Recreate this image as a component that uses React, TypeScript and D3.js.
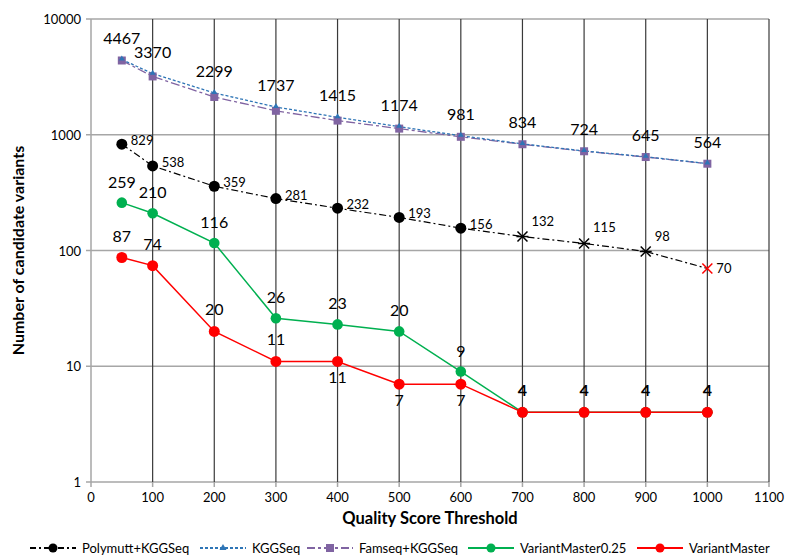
import * as d3 from "d3";

const thresholds = [50, 100, 200, 300, 400, 500, 600, 700, 800, 900, 1000];
const polymutt = [829, 538, 359, 281, 232, 193, 156, 132, 115, 98, 70];
const kggseq = [4467, 3370, 2299, 1737, 1415, 1174, 981, 834, 724, 645, 564];
const famseq = [4380, 3190, 2120, 1610, 1325, 1130, 960, 828, 720, 642, 562];
const vm025 = [259, 210, 116, 26, 23, 20, 9, 4, 4, 4, 4];
const vm = [87, 74, 20, 11, 11, 7, 7, 4, 4, 4, 4];
const xTicks = [0, 100, 200, 300, 400, 500, 600, 700, 800, 900, 1000, 1100];
const yTicks = [1, 10, 100, 1000, 10000];

const FONT = "Lato, 'Open Sans', sans-serif";
const W = 786;
const H = 556;
const M = { left: 91, right: 16, top: 19, bottom: 74 };

const BLUE = "#2e75b6";
const PURPLE = "#8064a2";
const GREEN = "#00b050";
const RED = "#ff0000";

const App = () => {
  const x = d3.scaleLinear().domain([0, 1100]).range([M.left, W - M.right - 1]);
  const y = d3.scaleLog().domain([1, 10000]).range([H - M.bottom, M.top]);
  const line = (vals: number[]) =>
    d3
      .line<number>()
      .x((_, i) => x(thresholds[i]))
      .y((d) => y(d))(vals) || "";

  const y0 = y(1);
  const yTop = y(10000);

  // red labels below the point for these indices
  const vmBelow = [4, 5, 6];

  const star = (cx: number, cy: number, c: string, vert: boolean, k: number) => (
    <g key={k} stroke={c} strokeWidth={1.5}>
      <line x1={cx - 5} y1={cy - 5} x2={cx + 5} y2={cy + 5} />
      <line x1={cx - 5} y1={cy + 5} x2={cx + 5} y2={cy - 5} />
      {vert && <line x1={cx - 6} y1={cy} x2={cx + 6} y2={cy} />}
    </g>
  );

  const legendItems = [
    { x: 30, label: "Polymutt+KGGSeq", color: "#000", dash: "6,3,2,3", marker: "circle" },
    { x: 200, label: "KGGSeq", color: BLUE, dash: "3,2", marker: "tri" },
    { x: 307, label: "Famseq+KGGSeq", color: PURPLE, dash: "8,3,3,3", marker: "square" },
    { x: 468, label: "VariantMaster0.25", color: GREEN, dash: "", marker: "circleG" },
    { x: 637, label: "VariantMaster", color: RED, dash: "", marker: "circleR" },
  ];

  return (
    <svg width={W} height={H} style={{ position: "absolute", left: 0, top: 0, fontFamily: FONT }}>
      <rect width={W} height={H} fill="#fff" />
      {/* horizontal grid */}
      {yTicks.map((t) => (
        <line key={t} x1={M.left} x2={x(1100)} y1={y(t)} y2={y(t)} stroke="#a6a6a6" strokeWidth={1.5} />
      ))}
      {/* vertical grid */}
      {xTicks.slice(1).map((t) => (
        <line key={t} x1={x(t)} x2={x(t)} y1={yTop} y2={y0} stroke="#3a3a3a" strokeWidth={1.2} />
      ))}
      <line x1={M.left} x2={M.left} y1={yTop} y2={y0} stroke="#a6a6a6" strokeWidth={1.5} />
      {/* x ticks */}
      {xTicks.map((t) => (
        <g key={t}>
          <line x1={x(t)} x2={x(t)} y1={y0} y2={y0 + 5} stroke="#a6a6a6" strokeWidth={1.5} />
          <text x={x(t)} y={y0 + 20} textAnchor="middle" fontSize={13} fill="#000">
            {t}
          </text>
        </g>
      ))}
      {yTicks.map((t) => (
        <g key={t}>
          <line x1={M.left - 5} x2={M.left} y1={y(t)} y2={y(t)} stroke="#a6a6a6" strokeWidth={1.5} />
          <text x={M.left - 10} y={y(t) + 5} textAnchor="end" fontSize={13} fill="#000">
            {t}
          </text>
        </g>
      ))}

      {/* series lines */}
      <path d={line(famseq)} fill="none" stroke={PURPLE} strokeWidth={1.3} strokeDasharray="9,3,3,3" />
      <path d={line(kggseq)} fill="none" stroke={BLUE} strokeWidth={1.3} strokeDasharray="3,2" />
      <path d={line(polymutt)} fill="none" stroke="#000" strokeWidth={1.2} strokeDasharray="7,3,2,3" />
      <path d={line(vm025)} fill="none" stroke={GREEN} strokeWidth={1.5} />
      <path d={line(vm)} fill="none" stroke={RED} strokeWidth={1.5} />

      {/* markers */}
      {famseq.map((v, i) => (
        <rect key={i} x={x(thresholds[i]) - 4} y={y(v) - 4} width={8} height={8} fill={PURPLE} />
      ))}
      {kggseq.map((v, i) => {
        const cx = x(thresholds[i]);
        const cy = y(v);
        return <path key={i} d={`M${cx},${cy - 4}L${cx + 3},${cy + 1}L${cx - 3},${cy + 1}Z`} fill={BLUE} />;
      })}
      {polymutt.map((v, i) => {
        const cx = x(thresholds[i]);
        const cy = y(v);
        if (i < 7) return <circle key={i} cx={cx} cy={cy} r={5.5} fill="#000" />;
        if (i < 10) return star(cx, cy, "#000", true, i);
        return star(cx, cy, RED, false, i);
      })}
      {vm025.map((v, i) => (
        <circle key={i} cx={x(thresholds[i])} cy={y(v)} r={5.3} fill={GREEN} />
      ))}
      {vm.map((v, i) => (
        <circle key={i} cx={x(thresholds[i])} cy={y(v)} r={5.5} fill={RED} />
      ))}

      {/* labels */}
      {kggseq.map((v, i) => (
        <text key={i} x={x(thresholds[i])} y={y(v) - 16} textAnchor="middle" fontSize={16} fill="#000">
          {v}
        </text>
      ))}
      {polymutt.map((v, i) => (
        <text
          key={i}
          x={x(thresholds[i]) + 9}
          y={y(v) + (i >= 7 && i < 10 ? -11 : i === 10 ? 5 : 1)}
          fontSize={13}
          fill="#000"
        >
          {v}
        </text>
      ))}
      {vm025.map((v, i) =>
        i >= 7 ? null : (
          <text key={i} x={x(thresholds[i])} y={y(v) - 15} textAnchor="middle" fontSize={16} fill="#000">
            {v}
          </text>
        )
      )}
      {vm.map((v, i) => (
        <text
          key={i}
          x={x(thresholds[i])}
          y={vmBelow.includes(i) ? y(v) + 22 : y(v) - 16}
          textAnchor="middle"
          fontSize={16}
          fontWeight={i >= 7 ? "bold" : "normal"}
          fill="#000"
        >
          {v}
        </text>
      ))}

      {/* axis titles */}
      <text x={x(550)} y={524} textAnchor="middle" fontSize={16.5} fontWeight="bold" fill="#000">
        Quality Score Threshold
      </text>
      <text
        transform={`translate(24,${(yTop + y0) / 2}) rotate(-90)`}
        textAnchor="middle"
        fontSize={16}
        fontWeight="bold"
        fill="#000"
      >
        Number of candidate variants
      </text>

      {/* legend */}
      {legendItems.map((d) => {
        const ly = 548;
        const mx = d.x + 23;
        return (
          <g key={d.label}>
            <line x1={d.x} x2={d.x + 46} y1={ly} y2={ly} stroke={d.color} strokeWidth={d.marker === "circle" ? 2 : 1.8} strokeDasharray={d.dash || undefined} />
            {d.marker === "circle" && <circle cx={mx} cy={ly} r={4.5} fill="#000" />}
            {d.marker === "tri" && <path d={`M${mx},${ly - 4}L${mx + 3.5},${ly + 2}L${mx - 3.5},${ly + 2}Z`} fill={BLUE} />}
            {d.marker === "square" && <rect x={mx - 4} y={ly - 4} width={8} height={8} fill={PURPLE} />}
            {d.marker === "circleG" && <circle cx={mx} cy={ly} r={4.5} fill={GREEN} />}
            {d.marker === "circleR" && <circle cx={mx} cy={ly} r={4.5} fill={RED} />}
            <text x={d.x + 52} y={ly + 5} fontSize={13} fill="#000">
              {d.label}
            </text>
          </g>
        );
      })}
    </svg>
  );
};

export default App;
